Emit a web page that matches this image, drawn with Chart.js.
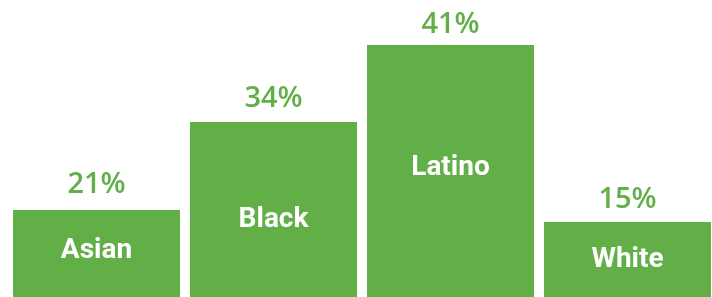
<!DOCTYPE html>
<html>
<head>
<meta charset="utf-8">
<script src="https://cdn.jsdelivr.net/npm/chart.js@4"></script>
<style>
  html, body { margin: 0; padding: 0; background: #fff; overflow: hidden; }
  #wrap { position: relative; width: 720px; height: 297px; }
</style>
</head>
<body>
<div id="wrap"><canvas id="myChart"></canvas></div>
<script>
// groups shown on the bars
const groups = ['Asian', 'Black', 'Latino', 'White']
// share printed above each bar
const shares = [21, 34, 41, 15]
// drawn bar heights (bars are not to scale, bottom is cropped)
const barHeights = [87, 175, 252, 75]

const green = '#62af48'

const barLabels = {
  id: 'barLabels',
  afterDatasetsDraw(chart) {
    const ctx = chart.ctx
    const meta = chart.getDatasetMeta(0)
    const insideDrop = [48, 105, 130, 45]
    const aboveGap = [17, 15, 12, 14]
    ctx.save()
    ctx.textAlign = 'center'
    ctx.textBaseline = 'alphabetic'
    meta.data.forEach((bar, i) => {
      ctx.fillStyle = green
      ctx.font = '600 29px "Open Sans", sans-serif'
      ctx.fillText(shares[i] + '%', bar.x, bar.y - aboveGap[i])
      ctx.fillStyle = '#ffffff'
      ctx.font = 'bold 28px Roboto, sans-serif'
      ctx.fillText(groups[i], bar.x, bar.y + insideDrop[i])
    })
    ctx.restore()
  }
}

const config = {
  type: 'bar',
  data: {
    labels: groups,
    datasets: [{
      data: barHeights,
      backgroundColor: green,
      borderWidth: 0,
      barPercentage: 0.9435,
      categoryPercentage: 1
    }]
  },
  options: {
    responsive: false,
    animation: false,
    layout: { padding: { left: 8, right: 4, top: 0, bottom: 0 } },
    scales: {
      x: { display: false },
      y: { display: false, min: 0, max: 297 }
    },
    plugins: {
      legend: { display: false },
      tooltip: { enabled: false }
    }
  },
  plugins: [barLabels]
}

const canvas = document.getElementById('myChart')
canvas.width = 720
canvas.height = 297
const myChart = new Chart(canvas, config)
</script>
</body>
</html>
